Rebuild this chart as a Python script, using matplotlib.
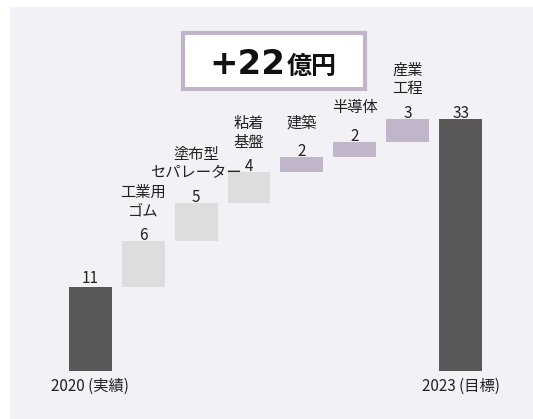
import matplotlib
matplotlib.use("Agg")
import matplotlib.pyplot as plt
from matplotlib.patches import Rectangle

plt.rcParams['font.family'] = ['Noto Sans CJK JP', 'DejaVu Sans']

# ---- data ----
start_label = "2020 (実績)"
end_label = "2023 (目標)"
start_value = 11
end_value = 33
categories = ["工業用\nゴム", "塗布型\nセパレーター", "粘着\n基盤", "建築", "半導体", "産業\n工程"]
increments = [6, 5, 4, 2, 2, 3]
title_unit = "億円"

# ---- style ----
bg = "#f2f1f6"
dark = "#595757"
light = "#dcdedd"
purple = "#c1b6c9"
inc_colors = [light, light, light, purple, purple, purple]
W, H = 533, 419
fs = 11

fig = plt.figure(figsize=(W / 100, H / 100), dpi=100)
fig.patch.set_facecolor("white")
bgrect = Rectangle((10 / W, 0), 1 - 10 / W, (H - 7) / H,
                   transform=fig.transFigure, facecolor=bg,
                   edgecolor="none", zorder=-10)
fig.patches.append(bgrect)

ax = fig.add_axes([0, 0, 1, 1])
ax.set_zorder(1)
ax.set_facecolor("none")
px_per_x = 52.9
x0_px = 90.3
px_per_y = 7.63
y0_px = 370.7
ax.set_xlim(-x0_px / px_per_x, (W - x0_px) / px_per_x)
ax.set_ylim(-(H - y0_px) / px_per_y, y0_px / px_per_y)
ax.axis("off")

bw = 0.81
n = len(increments)
txt = "#222222"
num_off = -2

# start bar
ax.bar(0, start_value, width=bw, color=dark, zorder=2)
ax.annotate(str(start_value), (0, start_value), xytext=(0, num_off + 1.5), textcoords="offset points",
            ha="center", va="bottom", fontsize=fs, color=txt)

bottom = start_value
for i, (cat, v, c) in enumerate(zip(categories, increments, inc_colors)):
    x = i + 1
    ax.bar(x, v, bottom=bottom, width=bw, color=c, zorder=2)
    top = bottom + v
    ax.annotate(str(v), (x, top), xytext=(0, num_off), textcoords="offset points",
                ha="center", va="bottom", fontsize=fs, color=txt)
    lab_off = 15.5 if "\n" in cat else 18.5
    ax.annotate(cat, (x, top), xytext=(0, lab_off), textcoords="offset points",
                ha="center", va="bottom", fontsize=fs, color=txt,
                linespacing=1.12)
    bottom = top

xe = n + 1
ax.bar(xe, end_value, width=bw, color=dark, zorder=2)
ax.annotate(str(end_value), (xe, end_value), xytext=(0, num_off), textcoords="offset points",
            ha="center", va="bottom", fontsize=fs, color=txt)

for x, lab in [(0, start_label), (xe, end_label)]:
    ax.annotate(lab, (x, 0), xytext=(0, -11.5), textcoords="offset points",
                ha="center", va="center", fontsize=fs, color=txt)

# title box
bx0, by0, bx1, by1 = 183, 33, 364.7, 89
ax.add_patch(Rectangle((bx0 / W, 1 - by1 / H), (bx1 - bx0) / W, (by1 - by0) / H,
                       transform=fig.transFigure, facecolor="white",
                       edgecolor=purple, linewidth=3, zorder=3))
total_inc = sum(increments)
ax.text(285.5 / W, 1 - 74.3 / H, f"+{total_inc}", ha="right", va="baseline",
        fontsize=24.5, fontweight="bold", color="#111111", zorder=4,
        family="DejaVu Sans", transform=fig.transFigure)
ax.text(287 / W, 1 - 74.3 / H, title_unit, ha="left", va="baseline",
        fontsize=18, fontweight="bold", color="#111111", zorder=4,
        transform=fig.transFigure)

fig.savefig("out.png", dpi=100, facecolor=fig.get_facecolor())
